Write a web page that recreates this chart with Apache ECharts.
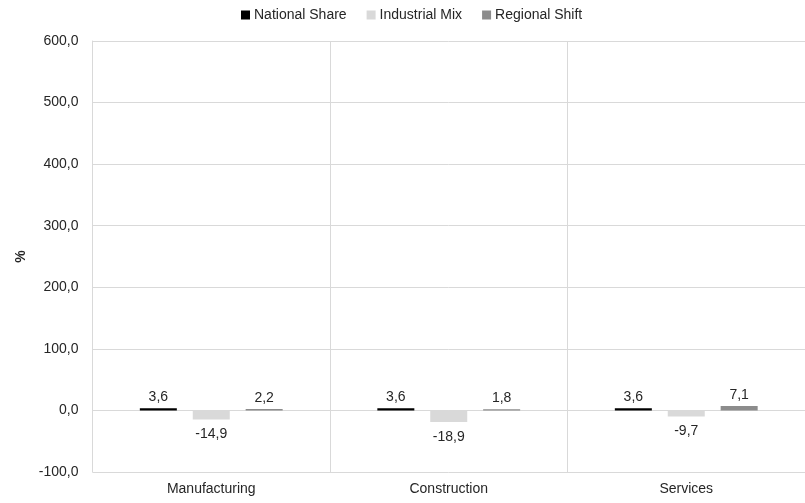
<!DOCTYPE html>
<html><head><meta charset="utf-8">
<script src="https://cdn.jsdelivr.net/npm/echarts@6/dist/echarts.min.js"></script>
<style>html,body{margin:0;padding:0;background:#fff}#c{width:805px;height:503px}</style>
</head><body><div id="c"></div>
<script>
const categories = ["Manufacturing", "Construction", "Services"];
const nationalShare = [3.6, 3.6, 3.6];
const industrialMix = [-14.9, -18.9, -9.7];
const regionalShift = [2.2, 1.8, 7.1];
const seriesNames = ["National Share", "Industrial Mix", "Regional Shift"];
const colors = ["#000000", "#d9d9d9", "#8c8c8c"];

const fmt = v => v.toFixed(1).replace('.', ',');
const font = "Liberation Sans, Arial, sans-serif";
const txt = '#262626';
function mk(name, data, color) {
  return {
    name, type: 'bar',
    data: data.map(v => ({value: v, label: {position: v >= 0 ? 'top' : 'bottom', distance: v >= 0 ? 4 : 8}})),
    barWidth: 37, barGap: '43%',
    itemStyle: {color},
    label: {show: true, formatter: p => fmt(p.value), color: txt, fontSize: 14, fontFamily: font}
  };
}
const chart = echarts.init(document.getElementById('c'), null, {renderer: 'canvas'});
chart.setOption({
  animation: false,
  textStyle: {fontFamily: font},
  legend: {top: 3, left: 236, itemWidth: 9, itemHeight: 9, itemGap: 20,
    textStyle: {fontSize: 14, color: txt, fontFamily: font, padding: [0, 0, 0, -1]},
    data: seriesNames.map(n => ({name: n, icon: 'rect'}))},
  grid: {left: 92.5, top: 41, width: 716, height: 431},
  xAxis: {type: 'category', data: categories,
    axisLine: {show: true, lineStyle: {color: '#d9d9d9'}},
    axisTick: {show: false},
    splitLine: {show: true, lineStyle: {color: '#d9d9d9'}},
    axisLabel: {color: txt, fontSize: 14, margin: 10, fontFamily: font}},
  yAxis: {type: 'value', min: -100, max: 600, interval: 100,
    name: '%', nameLocation: 'middle', nameGap: 59, nameRotate: 90,
    nameTextStyle: {color: txt, fontSize: 14, fontWeight: 'bold', fontFamily: font},
    axisLine: {show: true, lineStyle: {color: '#d9d9d9'}},
    axisTick: {show: false},
    splitLine: {lineStyle: {color: '#d9d9d9'}},
    axisLabel: {formatter: v => fmt(v), color: txt, fontSize: 14, margin: 14, fontFamily: font}},
  series: [mk(seriesNames[0], nationalShare, colors[0]), mk(seriesNames[1], industrialMix, colors[1]), mk(seriesNames[2], regionalShift, colors[2])]
});
</script></body></html>
